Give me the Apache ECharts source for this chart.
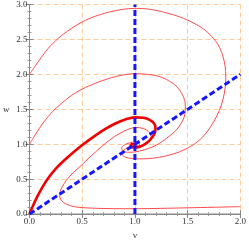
<!DOCTYPE html>
<html><head><meta charset="utf-8">
<script src="https://cdn.jsdelivr.net/npm/echarts@6/dist/echarts.min.js"></script>
<style>html,body{margin:0;padding:0;background:#fff}#c{width:249px;height:245px}</style>
</head><body><div id="c"></div>
<script>
const xTicks = ['0.0','0.5','1.0','1.5','2.0'];
const yTicks = ['0.0','0.5','1.0','1.5','2.0','2.5','3.0'];
const curveA = [[0,2.0],[0.05,2.11],[0.12,2.26],[0.2,2.41],[0.3,2.55],[0.4,2.66],[0.5,2.75],[0.62,2.83],[0.75,2.89],[0.88,2.93],[1.0,2.945],[1.15,2.93],[1.3,2.88],[1.43,2.82],[1.55,2.74],[1.65,2.65],[1.73,2.54],[1.79,2.42],[1.83,2.28],[1.855,2.12],[1.862,1.96],[1.855,1.80],[1.835,1.64],[1.80,1.48],[1.75,1.33],[1.69,1.19],[1.62,1.07],[1.53,0.97],[1.42,0.89],[1.30,0.835],[1.17,0.80],[1.06,0.79],[0.97,0.795],[0.91,0.815],[0.88,0.85],[0.885,0.895],[0.91,0.935],[0.95,0.965],[0.99,0.98],[1.02,0.985],[1.03,0.975],[1.01,0.965],[0.99,0.975],[1.0,0.99]];
const curveB = [[0,1.0],[0.04,1.1],[0.09,1.22],[0.142,1.33],[0.22,1.47],[0.3,1.58],[0.4,1.70],[0.5,1.79],[0.62,1.87],[0.75,1.94],[0.88,1.99],[1.0,2.01],[1.12,2.0],[1.23,1.97],[1.32,1.91],[1.40,1.82],[1.45,1.71],[1.475,1.60],[1.478,1.49],[1.465,1.38],[1.435,1.29],[1.39,1.20],[1.33,1.12],[1.26,1.04],[1.18,0.97],[1.09,0.92],[1.0,0.89],[0.93,0.885],[0.88,0.91],[0.875,0.95],[0.9,0.99],[0.95,1.02],[1.0,1.03],[1.04,1.015],[1.045,0.99],[1.02,0.975],[1.0,0.985]];
const curveC = [[0,0],[0.03,0.11],[0.07,0.24],[0.12,0.38],[0.18,0.52],[0.25,0.65],[0.33,0.77],[0.42,0.89],[0.52,1.01],[0.62,1.12],[0.72,1.22],[0.82,1.30],[0.91,1.355],[1.0,1.385],[1.08,1.38],[1.14,1.35],[1.18,1.30],[1.195,1.24],[1.19,1.17],[1.165,1.10],[1.12,1.03],[1.07,0.98],[1.02,0.955],[0.98,0.955],[0.96,0.975],[0.97,1.0],[1.0,1.005]];
const curveE = [[2.0,0.107],[1.75,0.098],[1.5,0.09],[1.25,0.082],[1.0,0.077],[0.8,0.078],[0.65,0.082],[0.53,0.09],[0.45,0.1],[0.39,0.12],[0.34,0.15],[0.305,0.19],[0.288,0.24],[0.287,0.29],[0.3,0.36],[0.33,0.44],[0.37,0.52],[0.42,0.6],[0.5,0.71],[0.59,0.84],[0.68,0.96],[0.76,1.06],[0.85,1.15],[0.93,1.21],[1.01,1.24],[1.08,1.225],[1.13,1.18],[1.155,1.12],[1.145,1.06],[1.11,1.01],[1.06,0.975],[1.0,0.96],[0.96,0.97],[0.955,0.995],[0.98,1.01],[1.0,1.005]];
const vNull = [[1,0],[1,3]];
const wNull = [[0,0],[2,2]];

const chart = echarts.init(document.getElementById('c'));
const font = 'Liberation Serif, Times New Roman, serif';
const gridLine = {show:true, lineStyle:{color:'#ffcc99', type:[5,3], width:1}};
function axisBase(extra){
  return Object.assign({
    type:'value', axisLine:{show:true,lineStyle:{color:'#888',width:1}},
    axisTick:{show:true,inside:true,length:4,lineStyle:{color:'#888'}},
    minorTick:{show:true,splitNumber:5,length:2,lineStyle:{color:'#999'}},
    splitLine:{show:false}
  }, extra);
}
const thin = {color:'#ff4a4a',width:1};
chart.setOption({
  animation:false,
  grid:{left:24.5,right:5.5,top:4.3,bottom:22.3},
  xAxis:[
    axisBase({min:0,max:2,interval:0.5,position:'bottom',name:'v',nameLocation:'middle',nameGap:16,
      nameTextStyle:{fontFamily:font,fontSize:9,color:'#333'},
      axisLine:{show:true,lineStyle:{color:'#c4c4c4',width:2}},
      axisLabel:{fontFamily:font,fontSize:9,color:'#333',margin:3,formatter:(v,i)=>xTicks[i]},
      splitLine:gridLine}),
    axisBase({min:0,max:2,interval:0.5,position:'top',axisLabel:{show:false}})
  ],
  yAxis:[
    axisBase({min:0,max:3,interval:0.5,position:'left',name:'w',nameLocation:'middle',nameGap:20,nameRotate:0,
      nameTextStyle:{fontFamily:font,fontSize:9,color:'#333'},
      axisLabel:{fontFamily:font,fontSize:9,color:'#333',margin:2,formatter:(v,i)=>yTicks[i]},
      splitLine:gridLine}),
    axisBase({min:0,max:3,interval:0.5,position:'right',axisLabel:{show:false}})
  ],
  series:[
    {type:'line',data:curveA,smooth:0.3,symbol:'none',lineStyle:thin},
    {type:'line',data:curveB,smooth:0.3,symbol:'none',lineStyle:thin},
    {type:'line',data:curveE,smooth:0.3,symbol:'none',lineStyle:thin},
    {type:'line',data:curveC,smooth:0.3,symbol:'none',lineStyle:{color:'#f00000',width:2.6}},
    {type:'line',data:vNull,symbol:'none',lineStyle:{color:'#1515ff',width:3,type:[6,3]}},
    {type:'line',data:wNull,symbol:'none',lineStyle:{color:'#1515ff',width:3,type:[6,3]}}
  ]
});
</script></body></html>
